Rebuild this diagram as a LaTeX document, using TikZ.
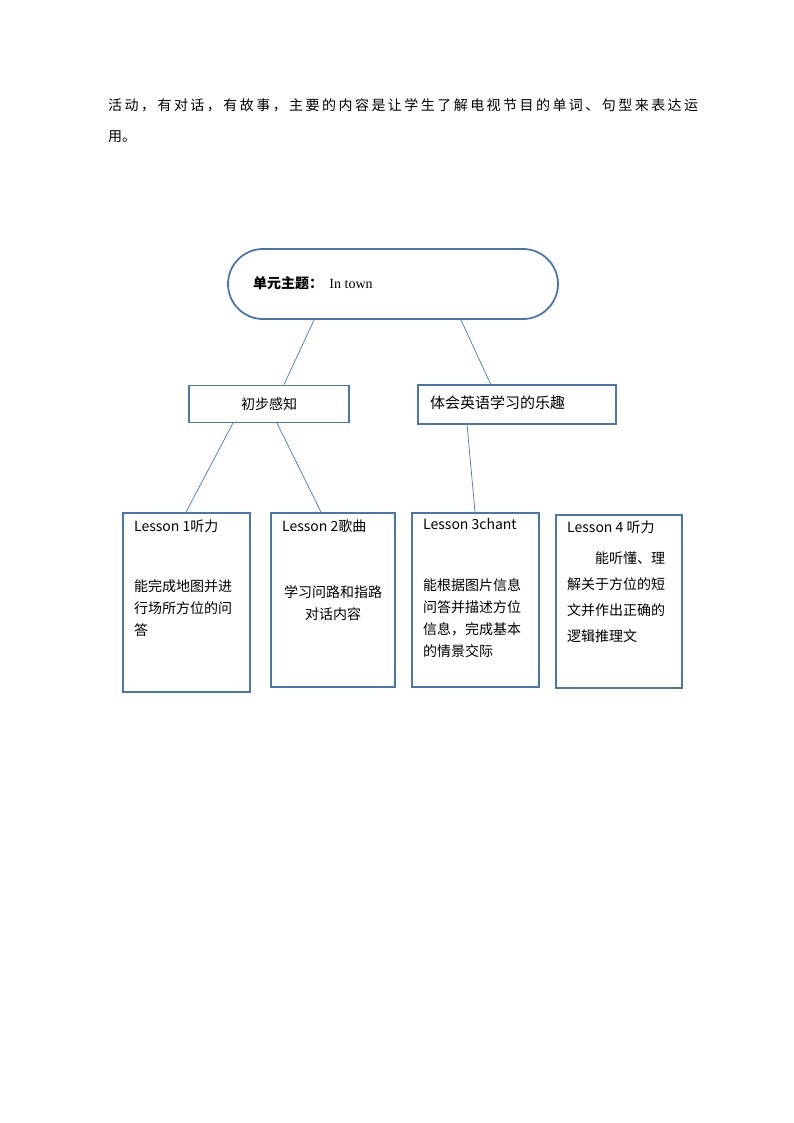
\documentclass[tikz,border=0pt]{standalone}
\usepackage{fontspec}
\setmainfont{Noto Sans CJK SC}
\definecolor{boxblue}{RGB}{74,118,176}
\begin{document}
\begin{tikzpicture}[x=1pt,y=-1pt]

\tikzstyle{box1}=[rectangle, draw=boxblue, line width=1.8pt, inner sep=0pt]
\tikzstyle{txt}=[font=\fontsize{14}{22}\selectfont, anchor=north west, align=left, inner sep=0pt]
\tikzstyle{link}=[draw=boxblue, line width=0.7pt]

\useasboundingbox (0,0) rectangle (794,1123);

% header text
\node (H1) [txt, anchor=west] at (108,105) {\makebox[590pt][s]{活 动 ， 有 对 话 ， 有 故 事 ， 主 要 的 内 容 是 让 学 生 了 解 电 视 节 目 的 单 词 、 句 型 来 表 达 运}};
\node (H2) [txt, anchor=west] at (108,137) {用。};

% theme
\node (T) [box1, rounded corners=35pt, minimum width=330pt, minimum height=70pt] at (393,284) {};
\node [anchor=west, inner sep=0pt] at (253,283) {\fontsize{14}{16}\selectfont\textbf{单元主题：}\ \ {\fontspec{Liberation Serif}\fontsize{14}{16}\selectfont In town}};

% second level
\node (A) [box1, minimum width=160pt, minimum height=37pt] at (269,404) {\fontsize{14}{16}\selectfont 初步感知};
\node (B) [box1, minimum width=198pt, minimum height=39pt] at (517,404.5) {};
\node [anchor=west, inner sep=0pt] at (430,403) {\fontsize{15}{17}\selectfont 体会英语学习的乐趣};

% lessons
\node (L1) [box1, minimum width=127pt, minimum height=179pt] at (186.5,602.5) {};
\node (L2) [box1, minimum width=124pt, minimum height=174pt] at (333,600) {};
\node (L3) [box1, minimum width=127pt, minimum height=174pt] at (475.5,600) {};
\node (L4) [box1, minimum width=126pt, minimum height=173pt] at (619,601.5) {};

\node [txt] at (134,520) {Lesson 1听力};
\node [txt] at (134,579) {能完成地图并进\\行场所方位的问\\答};
\node [txt] at (282,520) {Lesson 2歌曲};
\node [txt, anchor=north, align=center] at (333,585) {学习问路和指路\\对话内容};
\node [txt] at (423,518) {Lesson 3chant};
\node [txt] at (423,578) {能根据图片信息\\问答并描述方位\\信息，完成基本\\的情景交际};
\node [txt] at (567,521) {Lesson 4 听力};
\node [txt, font=\fontsize{14}{26}\selectfont] at (567,552) {\hspace{2em}能听懂、理\\解关于方位的短\\文并作出正确的\\逻辑推理文};

% connectors
\coordinate (t1) at (314,320); \coordinate (t2) at (461,320);
\coordinate (a1) at (233,423); \coordinate (a2) at (277,423);
\coordinate (b1) at (467,424);
\draw [link] (t1) -- (A.north -| 284,0);
\draw [link] (t2) -- (491,385);
\draw [link] (a1) -- (L1.north -| 186,0);
\draw [link] (a2) -- (L2.north -| 321,0);
\draw [link] (b1) -- (L3.north -| 475,0);

\end{tikzpicture}
\end{document}
